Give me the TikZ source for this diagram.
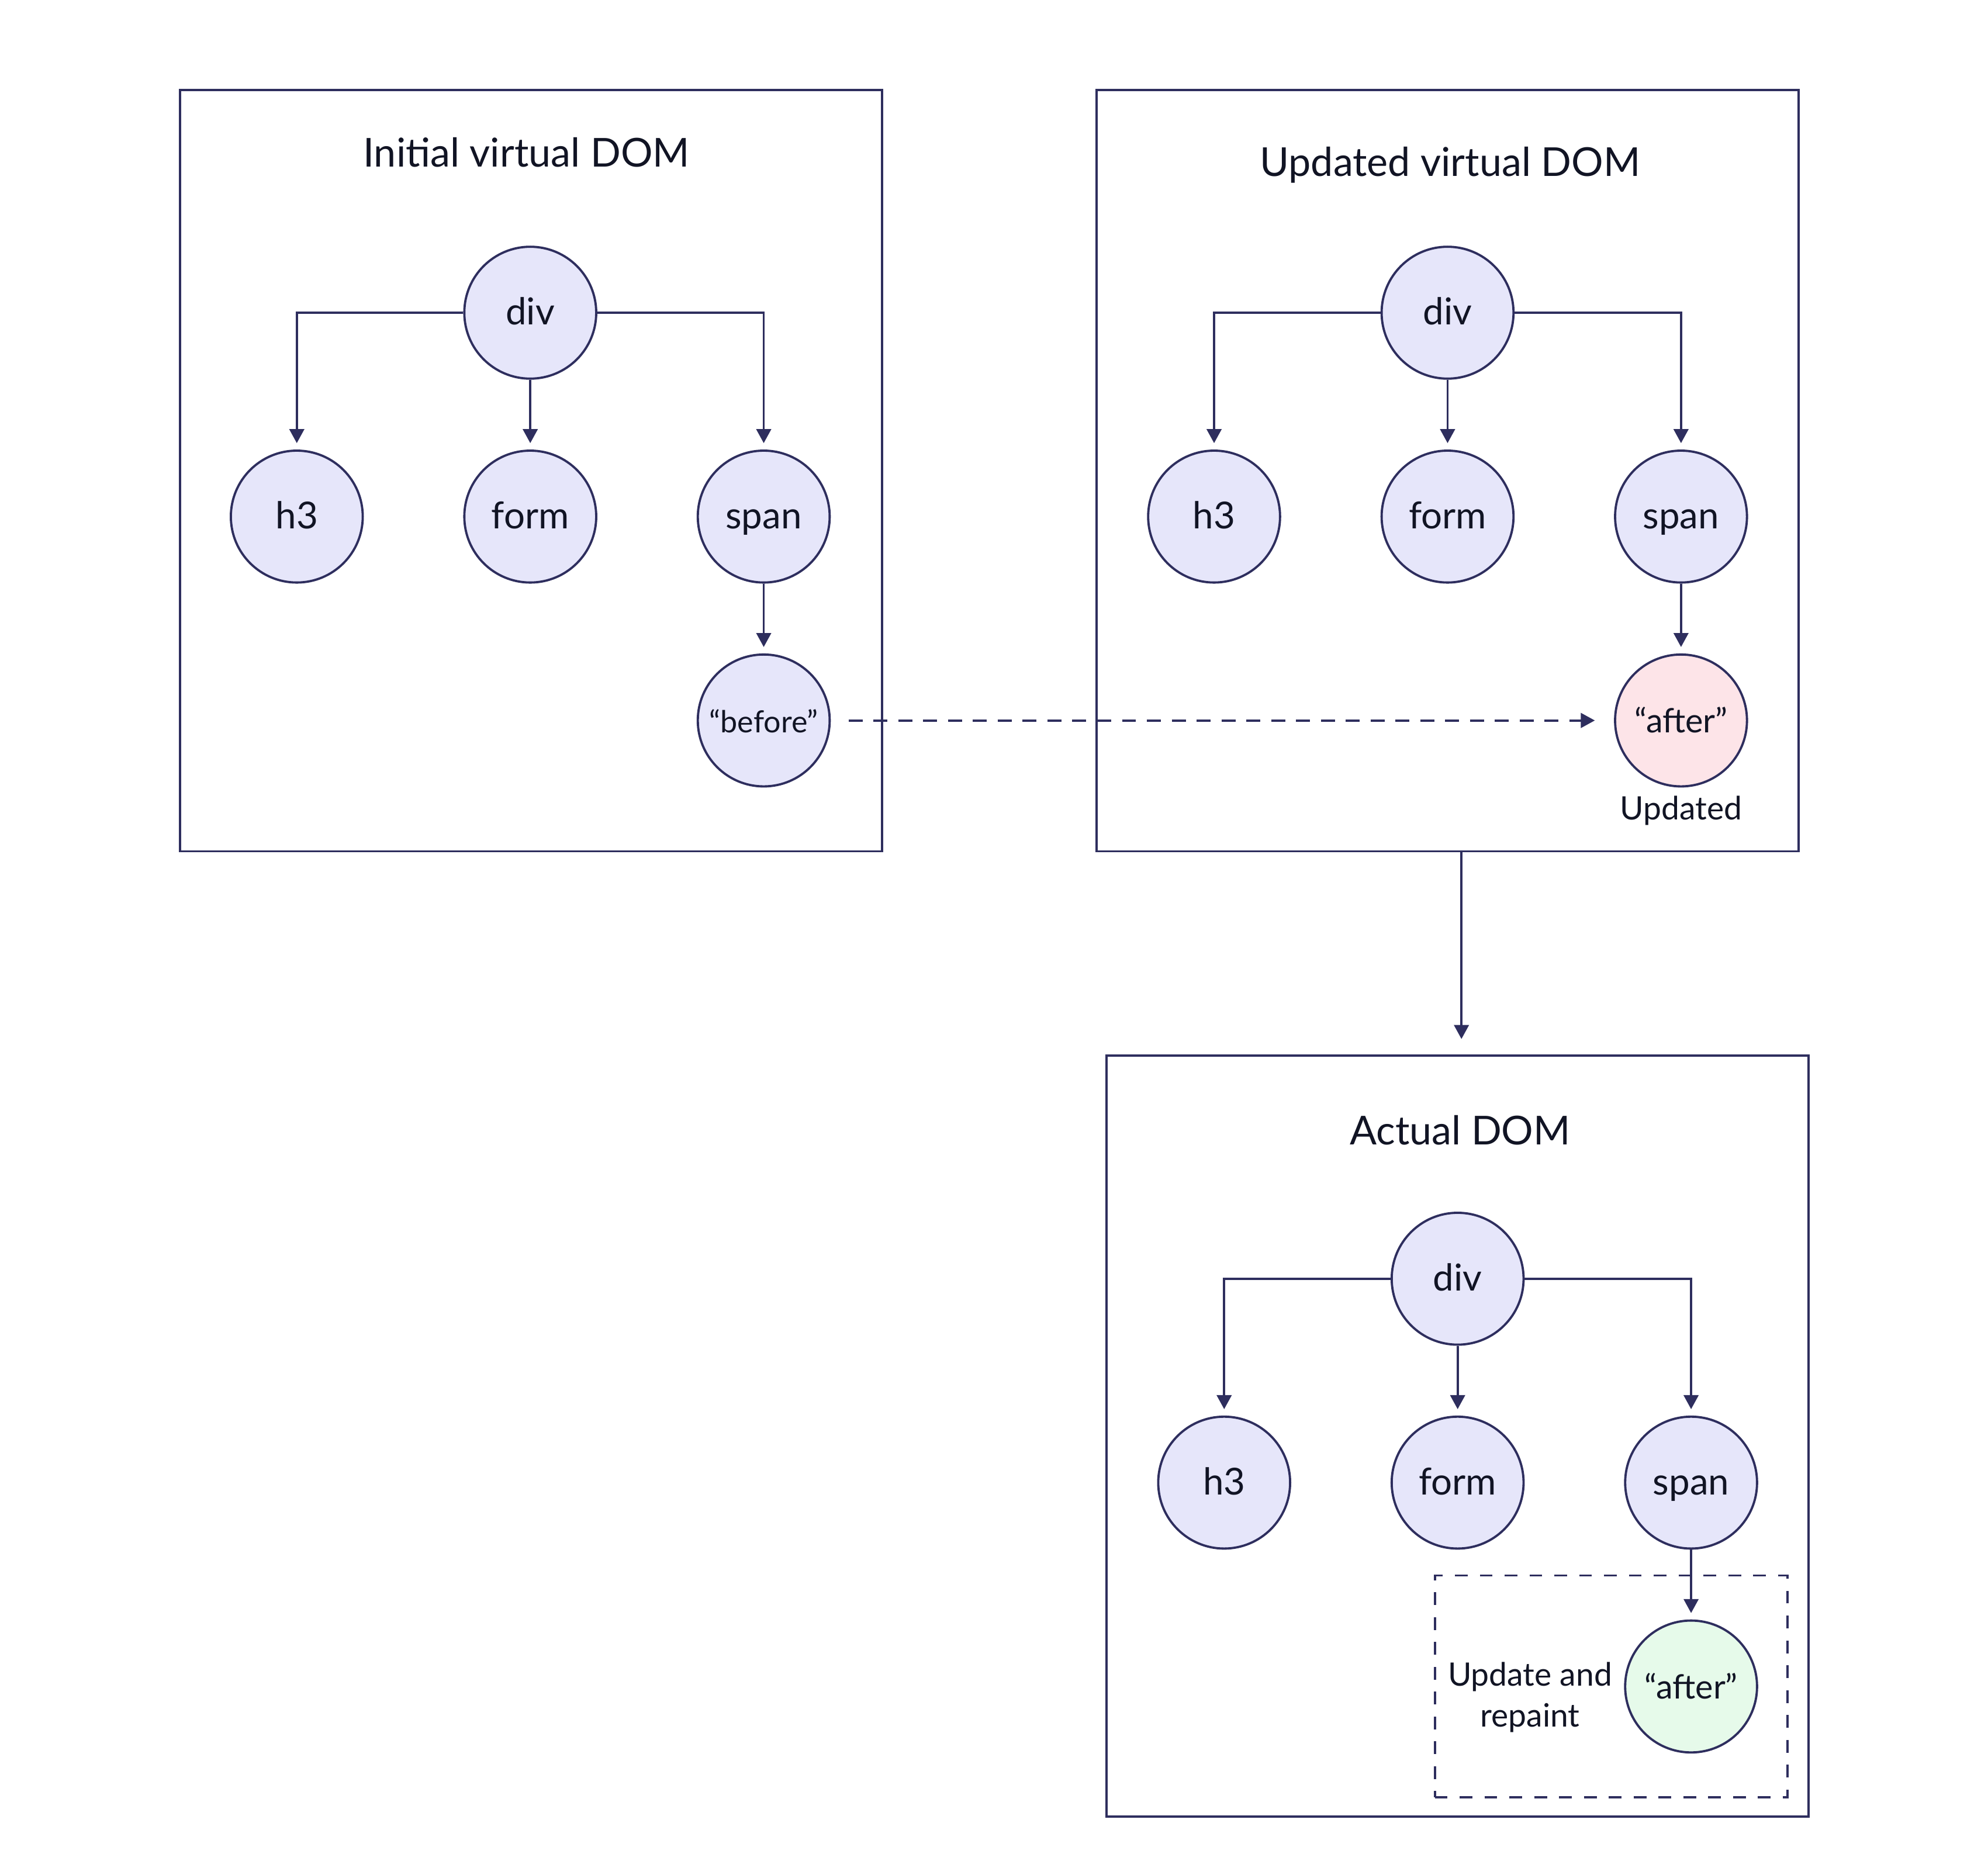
\documentclass[tikz,border=0pt]{standalone}
\usepackage{fontspec}
\setmainfont{Lato}
\usepackage{tikz}
\usetikzlibrary{arrows.meta}
\usetikzlibrary{positioning}
\definecolor{navy}{RGB}{46,46,94}
\definecolor{ink}{RGB}{17,20,36}
\definecolor{lavender}{RGB}{230,230,250}
\definecolor{pinkish}{RGB}{253,228,232}
\definecolor{mint}{RGB}{230,250,234}
\tikzset{
  domnode/.style = {circle, draw=navy, fill=lavender, line width=0.5pt,
    minimum size=1.035cm, inner sep=0pt, text=ink, text height=0.54em,
    text depth=0pt, font=\fontsize{8.3}{10}\selectfont},% noeud du DOM
  dom_new/.style = {domnode, fill=pinkish},% noeud modifie
  dom_paint/.style = {domnode, fill=mint},% noeud repeint
  panel/.style = {draw=navy, line width=0.5pt, minimum width=5.51cm,
    minimum height=5.973cm, inner sep=0pt},
  paneltitle/.style = {text=ink, font=\fontsize{8.9}{11}\selectfont},
  note/.style = {text=ink, align=center, font=\fontsize{7.2}{9.1}\selectfont},
  elbow/.style = {edge from parent path={(\tikzparentnode) -| (\tikzchildnode)}},
  straight/.style = {edge from parent path={(\tikzparentnode) -- (\tikzchildnode)}},
  flow/.style = {->, draw=navy, line width=0.5pt},
  dashflow/.style = {flow, dash pattern=on 0.11cm off 0.085cm},
  repaintbox/.style = {draw=navy, line width=0.5pt, dash pattern=on 0.1cm off 0.095cm,
    minimum width=2.768cm, minimum height=1.742cm, inner sep=0pt}
}

\begin{document}
\begin{tikzpicture}[>={Triangle[length=0.11cm,width=0.115cm]},
  level distance=1.6cm, level 1/.style={sibling distance=1.832cm},
  edge from parent/.style={draw=navy, line width=0.5pt, ->, shorten >=0.05cm}]
\useasboundingbox[fill=white] (0,0) rectangle (15.6,14.6);

% les trois cadres
\node [panel] (ivbox) at (4.166,10.906) {};
\node [panel] (uvbox) at (11.359,10.906) {};
\node [panel] (acbox) at (11.438,3.331) {};
\node [paneltitle] (ivtitle) at (ivbox.north) [xshift=-0.035cm,yshift=-0.498cm] {Initial virtual DOM};
\node [paneltitle] (uvtitle) at (uvbox.north) [xshift=0.02cm,yshift=-0.597cm] {Updated virtual DOM};
\node [paneltitle] (actitle) at (acbox.north) [xshift=0.02cm,yshift=-0.597cm] {Actual DOM};

% DOM virtuel initial
\node [domnode] (ivdiv) at (4.161,12.146) {div}
child [elbow] {
	node [domnode] (ivh3) {h3}
}
child {
	node [domnode] (ivform) {form}
}
child [elbow] {
	node [domnode] (ivspan) {span}
	child [straight] {
	    node [domnode, font=\fontsize{6.8}{8}\selectfont] (ivbefore) {“before”}
	}
};

% DOM virtuel mis a jour
\node [domnode] (uvdiv) at (11.359,12.146) {div}
child [elbow] {
	node [domnode] (uvh3) {h3}
}
child {
	node [domnode] (uvform) {form}
}
child [elbow] {
	node [domnode] (uvspan) {span}
	child [straight] {
	    node [dom_new, font=\fontsize{7.5}{9}\selectfont] (uvafter) {“after”}
	}
};
\node [note] (updlabel) at (uvafter) [yshift=-0.707cm] {Updated};

% DOM reel
\node [domnode] (acdiv) at (11.438,4.565) {div}
child [elbow] {
	node [domnode] (ach3) {h3}
}
child {
	node [domnode] (acform) {form}
}
child [elbow] {
	node [domnode] (acspan) {span}
	child [straight] {
	    node [dom_paint, font=\fontsize{7.5}{9}\selectfont] (acafter) {“after”}
	}
};
\node [repaintbox] (repaint) at (acafter) [xshift=-0.627cm] {};
\node [note] (rplabel) at (acafter) [xshift=-1.264cm,yshift=-0.085cm] {Update and\\repaint};

\draw [dashflow, shorten <=0.14cm, shorten >=0.15cm] (ivbefore) -- (uvafter);
\draw [flow, shorten >=0.12cm] ([xshift=0.03cm]uvbox.south -| acbox.north) -- ([xshift=0.03cm]acbox.north);
\end{tikzpicture}
\end{document}
